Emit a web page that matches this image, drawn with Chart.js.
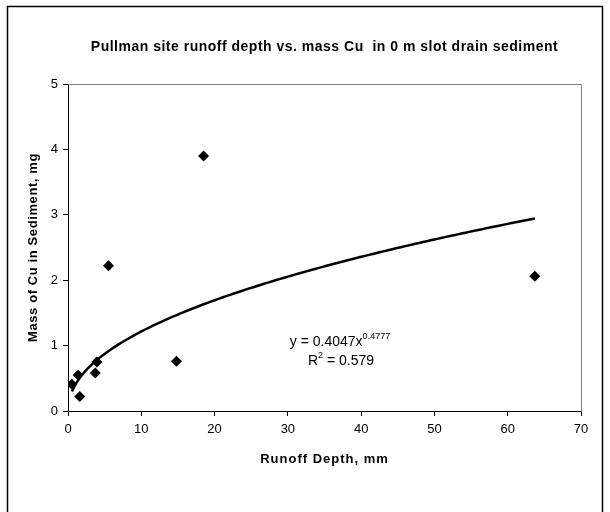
<!DOCTYPE html>
<html>
<head>
<meta charset="utf-8">
<script src="https://cdn.jsdelivr.net/npm/chart.js@4.4.1/dist/chart.umd.min.js"></script>
<style>
  html, body { margin: 0; padding: 0; background: #ffffff; }
  #wrap { width: 610px; height: 512px; position: relative; }
</style>
</head>
<body>
<div id="wrap"><canvas id="c" width="610" height="512"></canvas></div>
<script>
// ---- data ----
const runoffDepth = [0.53, 1.38, 1.6, 3.72, 3.94, 5.53, 14.8, 18.5, 63.7];
const massCu      = [0.41, 0.55, 0.22, 0.58, 0.75, 2.22, 0.76, 3.90, 2.06];
const xTicks = [0, 10, 20, 30, 40, 50, 60, 70];
const yTicks = [0, 1, 2, 3, 4, 5];
// power trend line printed on the chart: y = a * x^b
const trendCoef = [0.4047, 0.4777];
const trendLabel = ["y = 0.4047x", "0.4777", "R", "2", " = 0.579"];
const chartTitle = "Pullman site runoff depth vs. mass Cu  in 0 m slot drain sediment";
const xTitle = "Runoff Depth, mm";
const yTitle = "Mass of Cu in Sediment, mg";

// trend line sampled across the data range from the printed equation
const xMin = Math.min(...runoffDepth), xMax = Math.max(...runoffDepth);
const trendPts = [];
const nSteps = 120;
for (let i = 0; i <= nSteps; i++) {
  const x = xMin + (xMax - xMin) * i / nSteps;
  trendPts.push({ x: x, y: trendCoef[0] * Math.pow(x, trendCoef[1]) });
}
const scatterPts = runoffDepth.map((x, i) => ({ x: x, y: massCu[i] }));

const FONT = "'Liberation Sans', Arial, sans-serif";

const decor = {
  id: 'decor',
  beforeDraw(chart) {
    const ctx = chart.ctx;
    ctx.save();
    ctx.fillStyle = '#ffffff';
    ctx.fillRect(0, 0, chart.width, chart.height);
    ctx.strokeStyle = '#000000';
    ctx.lineWidth = 1.5;
    ctx.strokeRect(7.5, 6.5, 595, 520);
    ctx.restore();
  },
  beforeDatasetsDraw(chart) {
    const ctx = chart.ctx, a = chart.chartArea;
    ctx.save();
    ctx.strokeStyle = '#808080';
    ctx.lineWidth = 1;
    ctx.beginPath();
    ctx.moveTo(Math.round(a.left) + 0.5, Math.round(a.top) + 0.5);
    ctx.lineTo(Math.round(a.right) + 0.5, Math.round(a.top) + 0.5);
    ctx.lineTo(Math.round(a.right) + 0.5, Math.round(a.bottom) + 0.5);
    ctx.stroke();
    ctx.restore();
  },
  afterDraw(chart) {
    const ctx = chart.ctx, a = chart.chartArea;
    ctx.save();
    ctx.fillStyle = '#000000';
    ctx.textAlign = 'center';
    ctx.textBaseline = 'middle';
    // title
    ctx.font = "bold 14px " + FONT;
    ctx.letterSpacing = '0.5px';
    ctx.fillText(chartTitle, (a.left + a.right) / 2, 47);
    // x title
    ctx.font = "bold 13px " + FONT;
    ctx.letterSpacing = '1px';
    ctx.fillText(xTitle, (a.left + a.right) / 2, 459);
    // y title
    ctx.letterSpacing = '0.6px';
    ctx.save();
    ctx.translate(33, (a.top + a.bottom) / 2);
    ctx.rotate(-Math.PI / 2);
    ctx.fillText(yTitle, 0, 0);
    ctx.restore();
    ctx.letterSpacing = '0px';
    // equation
    ctx.textAlign = 'left';
    ctx.textBaseline = 'alphabetic';
    ctx.font = "14px " + FONT;
    const w1 = ctx.measureText(trendLabel[0]).width;
    ctx.font = "9px " + FONT;
    const w2 = ctx.measureText(trendLabel[1]).width;
    let x0 = 340 - (w1 + w2) / 2;
    ctx.font = "14px " + FONT;
    ctx.fillText(trendLabel[0], x0, 346);
    ctx.font = "9px " + FONT;
    ctx.fillText(trendLabel[1], x0 + w1, 339);
    ctx.font = "14px " + FONT;
    const r1 = ctx.measureText(trendLabel[2]).width;
    const r3 = ctx.measureText(trendLabel[4]).width;
    ctx.font = "9px " + FONT;
    const r2 = ctx.measureText(trendLabel[3]).width;
    x0 = 341 - (r1 + r2 + r3) / 2;
    ctx.font = "14px " + FONT;
    ctx.fillText(trendLabel[2], x0, 365);
    ctx.font = "9px " + FONT;
    ctx.fillText(trendLabel[3], x0 + r1, 358);
    ctx.font = "14px " + FONT;
    ctx.fillText(trendLabel[4], x0 + r1 + r2, 365);
    ctx.restore();
  }
};

new Chart(document.getElementById('c'), {
  type: 'scatter',
  data: {
    datasets: [
      {
        label: 'data',
        data: scatterPts,
        pointStyle: 'rectRot',
        pointRadius: 5.5,
        pointHoverRadius: 5.5,
        backgroundColor: '#000000',
        borderColor: '#000000',
        borderWidth: 0,
        order: 1
      },
      {
        label: 'trend',
        data: trendPts,
        showLine: true,
        pointRadius: 0,
        borderColor: '#000000',
        borderWidth: 2.5,
        tension: 0,
        fill: false,
        order: 2
      }
    ]
  },
  options: {
    responsive: false,
    animation: false,
    devicePixelRatio: 1,
    layout: { padding: { left: 0, top: 84, right: 29, bottom: 0 } },
    plugins: {
      legend: { display: false },
      title: { display: false },
      tooltip: { enabled: false }
    },
    scales: {
      x: {
        type: 'linear',
        min: 0, max: 70,
        afterFit(s) { s.height = 101; },
        afterBuildTicks(s) { s.ticks = xTicks.map(v => ({ value: v })); },
        border: { display: true, color: '#000000', width: 1 },
        grid: { display: true, drawOnChartArea: false, drawTicks: true, tickLength: 5, color: '#000000' },
        ticks: { color: '#000000', font: { family: FONT, size: 13 }, padding: 6, maxRotation: 0 }
      },
      y: {
        type: 'linear',
        min: 0, max: 5,
        afterFit(s) { s.width = 68; },
        afterBuildTicks(s) { s.ticks = yTicks.map(v => ({ value: v })); },
        border: { display: true, color: '#000000', width: 1 },
        grid: { display: true, drawOnChartArea: false, drawTicks: true, tickLength: 5, color: '#000000' },
        ticks: { color: '#000000', font: { family: FONT, size: 13 }, padding: 5 }
      }
    }
  },
  plugins: [decor]
});
</script>
</body>
</html>
